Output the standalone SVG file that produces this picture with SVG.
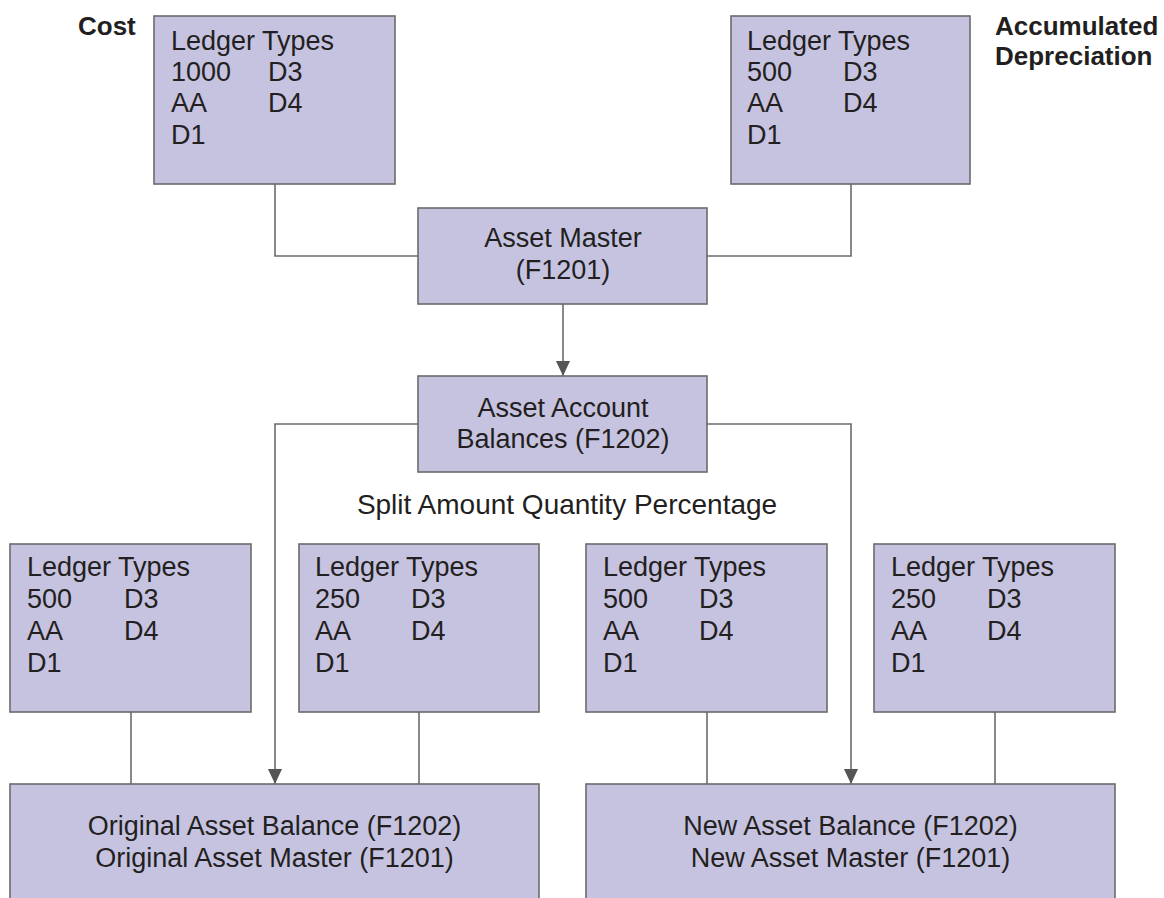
<svg xmlns="http://www.w3.org/2000/svg" width="1164" height="898" viewBox="0 0 1164 898">
<style>
.box{fill:#c6c3e0;stroke:#6b6b6b;stroke-width:1.6}
.t{font-family:"Liberation Sans",Arial,sans-serif;font-size:27px;fill:#231f20}
.c{text-anchor:middle}
.b{font-family:"Liberation Sans",Arial,sans-serif;font-size:26px;font-weight:bold;fill:#231f20}
.ln{fill:none;stroke:#6b6b6b;stroke-width:1.6}
</style>
<defs>
<marker id="arr" viewBox="0 0 15 14" refX="15" refY="7" markerWidth="15" markerHeight="14" markerUnits="userSpaceOnUse" orient="auto">
<path d="M0 0 L15 7 L0 14 Z" fill="#555555"/>
</marker>
</defs>
<rect width="1164" height="898" fill="#ffffff"/>
<text class="b" x="78" y="35">Cost</text>
<text class="b" x="995" y="35">Accumulated</text>
<text class="b" x="995" y="65">Depreciation</text>
<text class="t c" x="567" y="514" style="font-size:28px">Split Amount Quantity Percentage</text>
<g id="connectors">
<path class="ln" d="M275 184 V256 H418"/>
<path class="ln" d="M851 184 V256 H707"/>
<path class="ln" d="M563 304 V376" marker-end="url(#arr)"/>
<path class="ln" d="M418 424 H275 V784" marker-end="url(#arr)"/>
<path class="ln" d="M707 424 H851 V784" marker-end="url(#arr)"/>
<path class="ln" d="M131 712 V784"/>
<path class="ln" d="M419 712 V784"/>
<path class="ln" d="M707 712 V784"/>
<path class="ln" d="M995 712 V784"/>
</g>
<g id="cost-ledger">
<rect class="box" x="154" y="16" width="241" height="168"/>
<text class="t" x="171" y="50">Ledger Types</text>
<text class="t" x="171" y="81">1000</text><text class="t" x="268" y="81">D3</text>
<text class="t" x="171" y="112">AA</text><text class="t" x="268" y="112">D4</text>
<text class="t" x="171" y="144">D1</text>
</g>
<g id="depr-ledger">
<rect class="box" x="731" y="16" width="239" height="168"/>
<text class="t" x="747" y="50">Ledger Types</text>
<text class="t" x="747" y="81">500</text><text class="t" x="843" y="81">D3</text>
<text class="t" x="747" y="112">AA</text><text class="t" x="843" y="112">D4</text>
<text class="t" x="747" y="144">D1</text>
</g>
<g id="asset-master">
<rect class="box" x="418" y="208" width="289" height="96"/>
<text class="t c" x="563" y="247">Asset Master</text>
<text class="t c" x="563" y="279">(F1201)</text>
</g>
<g id="asset-account-balances">
<rect class="box" x="418" y="376" width="289" height="96"/>
<text class="t c" x="563" y="417">Asset Account</text>
<text class="t c" x="563" y="448">Balances (F1202)</text>
</g>
<g id="ledger1">
<rect class="box" x="10" y="544" width="241" height="168"/>
<text class="t" x="27" y="576">Ledger Types</text>
<text class="t" x="27" y="608">500</text><text class="t" x="124" y="608">D3</text>
<text class="t" x="27" y="640">AA</text><text class="t" x="124" y="640">D4</text>
<text class="t" x="27" y="672">D1</text>
</g>
<g id="ledger2">
<rect class="box" x="299" y="544" width="240" height="168"/>
<text class="t" x="315" y="576">Ledger Types</text>
<text class="t" x="315" y="608">250</text><text class="t" x="411" y="608">D3</text>
<text class="t" x="315" y="640">AA</text><text class="t" x="411" y="640">D4</text>
<text class="t" x="315" y="672">D1</text>
</g>
<g id="ledger3">
<rect class="box" x="586" y="544" width="241" height="168"/>
<text class="t" x="603" y="576">Ledger Types</text>
<text class="t" x="603" y="608">500</text><text class="t" x="699" y="608">D3</text>
<text class="t" x="603" y="640">AA</text><text class="t" x="699" y="640">D4</text>
<text class="t" x="603" y="672">D1</text>
</g>
<g id="ledger4">
<rect class="box" x="874" y="544" width="241" height="168"/>
<text class="t" x="891" y="576">Ledger Types</text>
<text class="t" x="891" y="608">250</text><text class="t" x="987" y="608">D3</text>
<text class="t" x="891" y="640">AA</text><text class="t" x="987" y="640">D4</text>
<text class="t" x="891" y="672">D1</text>
</g>
<g id="original-asset">
<rect class="box" x="10" y="784" width="529" height="130"/>
<text class="t c" x="274.5" y="835">Original Asset Balance (F1202)</text>
<text class="t c" x="274.5" y="867">Original Asset Master (F1201)</text>
</g>
<g id="new-asset">
<rect class="box" x="586" y="784" width="529" height="130"/>
<text class="t c" x="850.5" y="835">New Asset Balance (F1202)</text>
<text class="t c" x="850.5" y="867">New Asset Master (F1201)</text>
</g>
</svg>
